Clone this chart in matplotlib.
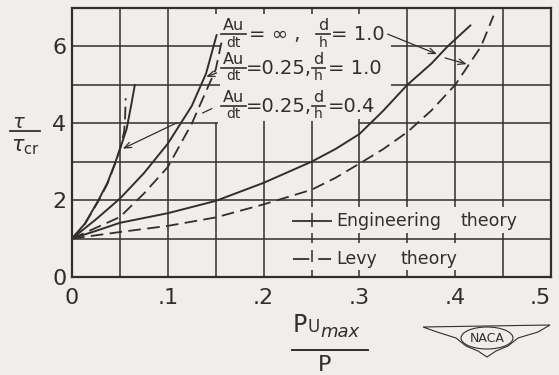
#!/usr/bin/env python3
"""
Shear stress ratio vs P_Umax/P, engineering theory vs Levy theory (NACA figure).
"""

import matplotlib
matplotlib.use('Agg')
import matplotlib.pyplot as plt
from matplotlib.lines import Line2D
from matplotlib.patches import Polygon, Ellipse

matplotlib.rcParams['font.family'] = 'DejaVu Sans'
matplotlib.rcParams['mathtext.fontset'] = 'dejavusans'

BG = '#efeeea'
INK = '#332e2e'

# Au/dt = 0.25, d/h = 0.4
steep_eng_x = [0, 0.0135, 0.0274, 0.037, 0.0455, 0.051, 0.057, 0.062, 0.0656]
steep_eng_y = [1, 1.39, 1.99, 2.45, 3.0, 3.4, 3.85, 4.5, 5.0]
steep_levy_x = [0, 0.0135, 0.0274, 0.037, 0.0455, 0.051, 0.0545, 0.0555, 0.056]
steep_levy_y = [1, 1.38, 1.97, 2.43, 2.98, 3.4, 3.8, 4.2, 4.65]

# Au/dt = 0.25, d/h = 1.0
mid_eng_x = [0, 0.025, 0.05, 0.075, 0.1, 0.125, 0.14, 0.151]
mid_eng_y = [1, 1.5, 2.04, 2.7, 3.47, 4.45, 5.3, 6.3]
mid_levy_x = [0, 0.025, 0.05, 0.075, 0.1, 0.125, 0.15, 0.156]
mid_levy_y = [1, 1.28, 1.56, 2.17, 2.86, 3.99, 5.4, 6.1]

# Au/dt = inf, d/h = 1.0
inf_eng_x = [0, 0.025, 0.05, 0.1, 0.15, 0.2, 0.25, 0.275, 0.3, 0.325, 0.35, 0.375, 0.392, 0.416]
inf_eng_y = [1, 1.2, 1.41, 1.66, 1.98, 2.45, 3.0, 3.33, 3.72, 4.33, 5.0, 5.55, 6.0, 6.55]
inf_levy_x = [0, 0.05, 0.1, 0.15, 0.2, 0.25, 0.275, 0.3, 0.325, 0.35, 0.375, 0.4, 0.427, 0.44]
inf_levy_y = [1, 1.17, 1.33, 1.55, 1.89, 2.27, 2.58, 2.95, 3.33, 3.77, 4.33, 5.0, 6.0, 6.8]

x_ticks = [0, 0.1, 0.2, 0.3, 0.4, 0.5]
x_tick_labels = ['0', '.1', '.2', '.3', '.4', '.5']
y_ticks = [0, 2, 4, 6]
y_tick_labels = ['0', '2', '4', '6']

W, H = 559, 375


def fx(px):
    return px / W


def fy(py):
    return 1 - py / H


fig = plt.figure(figsize=(W / 100, H / 100), dpi=100, facecolor=BG)
ax = fig.add_axes([fx(72), fy(277), fx(551) - fx(72), fy(8) - fy(277)])
ax.set_facecolor(BG)
ax.set_xlim(0, 0.5)
ax.set_ylim(0, 7)

# grid, broken where the lettering sits
grid_kw = dict(color=INK, lw=1.1, zorder=1, solid_capstyle='butt')
h_spans = {
    1: [(0, 0.5)], 2: [(0, 0.5)], 3: [(0, 0.5)],
    4: [(0, 0.152), (0.30, 0.5)],
    5: [(0, 0.155), (0.333, 0.5)],
    6: [(0, 0.155), (0.333, 0.5)],
}
v_spans = {
    0.05: [(0, 7)], 0.1: [(0, 7)],
    0.15: [(0, 4.0), (6.85, 7)],
    0.2: [(0, 4.07), (6.85, 7)],
    0.25: [(0, 0.18), (0.4, 0.7), (0.88, 1.14), (1.3, 1.66), (1.81, 4.07), (6.85, 7)],
    0.3: [(0, 0.18), (0.88, 1.14), (1.81, 4.1), (6.85, 7)],
    0.35: [(0, 0.18), (0.88, 1.14), (1.81, 7)],
    0.4: [(0, 0.18), (0.88, 1.14), (1.81, 7)],
    0.45: [(0, 1.14), (1.81, 7)],
}
for yv, spans in h_spans.items():
    for a, b in spans:
        ax.plot([a, b], [yv, yv], **grid_kw)
for xv, spans in v_spans.items():
    for a, b in spans:
        ax.plot([xv, xv], [a, b], **grid_kw)

# curves
solid_kw = dict(color=INK, lw=1.4, zorder=3, solid_capstyle='round', solid_joinstyle='round')
dash_kw = dict(color=INK, lw=1.3, zorder=3, dashes=(7, 3.5))
ax.plot(steep_eng_x, steep_eng_y, **solid_kw)
ax.plot(steep_levy_x, steep_levy_y, **dash_kw)
ax.plot(mid_eng_x, mid_eng_y, **solid_kw)
ax.plot(mid_levy_x, mid_levy_y, **dash_kw)
ax.plot(inf_eng_x, inf_eng_y, **solid_kw)
ax.plot(inf_levy_x, inf_levy_y, **dash_kw)

for s in ax.spines.values():
    s.set_linewidth(1.6)
    s.set_color(INK)
ax.set_xticks(x_ticks)
ax.set_xticklabels(x_tick_labels)
ax.set_yticks(y_ticks)
ax.set_yticklabels(y_tick_labels)
ax.tick_params(axis='x', length=0, pad=8, labelsize=16, colors=INK)
ax.tick_params(axis='y', length=0, pad=4, labelsize=16, colors=INK)
ax.get_xticklabels()[-1].set_horizontalalignment('right')


def frac(x, y, num, den, w, size=11.5):
    ax.text(x, y + 0.1, num, ha='center', va='baseline', fontsize=size, color=INK, zorder=4)
    ax.text(x, y - 0.04, den, ha='center', va='top', fontsize=size - 1.5, color=INK, zorder=4)
    ax.plot([x - w, x + w], [y, y], color=INK, lw=1.2, zorder=4)


rows = [(6.32, '= \u221e ,', 0.1845, 0.262, '= 1.0', 0.270),
        (5.44, '=0.25,', 0.182, 0.257, '= 1.0', 0.267),
        (4.46, '=0.25,', 0.182, 0.257, '=0.4', 0.267)]
for yb, eq, xeq, xdh, val, xval in rows:
    frac(0.1685, yb, 'Au', 'dt', 0.013)
    ax.text(xeq, yb - 0.02, eq, ha='left', va='center', fontsize=14, color=INK)
    frac(xdh, yb, 'd', 'h', 0.007)
    ax.text(xval, yb - 0.02, val, ha='left', va='center', fontsize=14, color=INK)

arrow_kw = dict(arrowstyle='->,head_length=0.5,head_width=0.2', color=INK, lw=0.9,
                shrinkA=0, shrinkB=0)
ax.annotate('', xy=(0.381, 5.80), xytext=(0.3295, 6.32), arrowprops=arrow_kw)
ax.annotate('', xy=(0.412, 5.54), xytext=(0.3895, 5.70), arrowprops=arrow_kw)
ax.annotate('', xy=(0.140, 5.21), xytext=(0.151, 5.31), arrowprops=arrow_kw)
ax.plot([0.1365, 0.1458], [4.27, 4.38], color=INK, lw=0.9)
ax.annotate('', xy=(0.053, 3.34), xytext=(0.110, 4.02), arrowprops=arrow_kw)

# legend
ax.plot([0.231, 0.2705], [1.46, 1.46], color=INK, lw=1.3)
ax.plot([0.231, 0.2705], [0.47, 0.47], color=INK, lw=1.3, dashes=(9, 5))
ax.text(0.2756, 1.46, 'Engineering', ha='left', va='center', fontsize=12.5, color=INK)
ax.text(0.406, 1.46, 'theory', ha='left', va='center', fontsize=12.5, color=INK)
ax.text(0.2756, 0.47, 'Levy', ha='left', va='center', fontsize=12.5, color=INK)
ax.text(0.343, 0.47, 'theory', ha='left', va='center', fontsize=12.5, color=INK)

# y label  tau / tau_cr
fig.text(fx(19), fy(128), r'$\tau$', ha='center', va='baseline', fontsize=14, color=INK)
fig.add_artist(Line2D([fx(10), fx(40)], [fy(131), fy(131)], color=INK, lw=1.3))
fig.text(fx(25), fy(151), r'$\tau_{\mathrm{cr}}$', ha='center', va='baseline', fontsize=15,
         color=INK)

# x label  P_Umax / P
fig.text(fx(293), fy(332), 'P', ha='left', va='baseline', fontsize=17, color=INK)
fig.text(fx(308), fy(332), 'U', ha='left', va='baseline', fontsize=12, color=INK)
fig.text(fx(320), fy(337), 'max', ha='left', va='baseline', fontsize=13, style='italic',
         color=INK)
fig.add_artist(Line2D([fx(292), fx(368)], [fy(350), fy(350)], color=INK, lw=1.4))
fig.text(fx(325), fy(371), 'P', ha='center', va='baseline', fontsize=16, color=INK)

# NACA wings
wing = [(423, 327), (550, 325), (538, 332), (518, 338), (508, 346), (496, 351), (487, 357),
        (478, 351), (466, 346), (456, 338), (437, 332)]
fig.add_artist(Polygon([(fx(a), fy(b)) for a, b in wing], closed=True, fill=False,
                       edgecolor=INK, lw=0.8, transform=fig.transFigure))
fig.add_artist(Ellipse((fx(487), fy(338)), fx(52), 22 / H, fill=True, facecolor=BG,
                       edgecolor=INK, lw=0.8, transform=fig.transFigure))
fig.text(fx(487), fy(338), 'NACA', ha='center', va='center', fontsize=9, color=INK)

fig.savefig('out.png', dpi=100, facecolor=BG)
